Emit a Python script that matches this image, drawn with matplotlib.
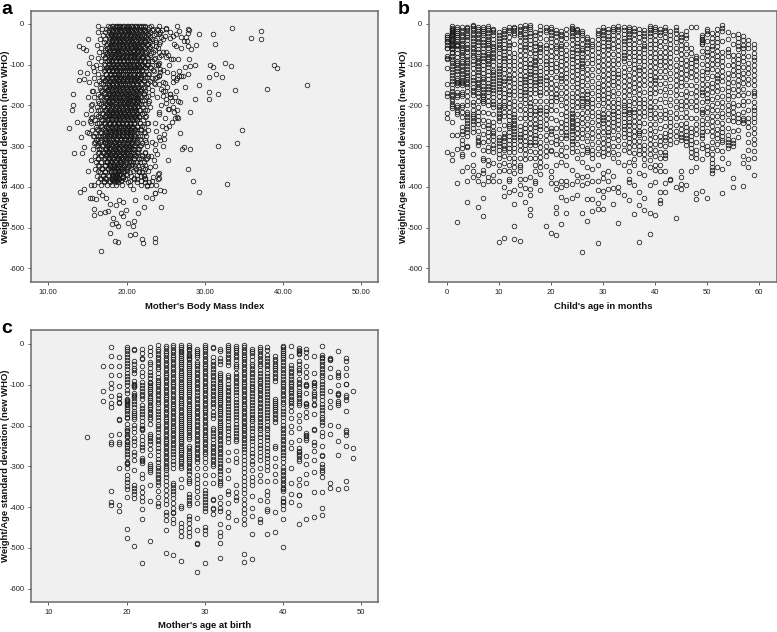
import matplotlib
matplotlib.use("Agg")
import matplotlib.pyplot as plt

plt.rcParams['font.family'] = ['Liberation Sans', 'DejaVu Sans']

W, H = 777, 632
y_ticks = [0, -100, -200, -300, -400, -500, -600]
y_tick_labels = ['0', '-100', '-200', '-300', '-400', '-500', '-600']
y_title = 'Weight/Age standard deviation (new WHO)'

# ---------- panel a: core of the cloud, read band by band ----------
a_band_who = [-4, -12, -20, -28, -36, -44, -52, -60, -68, -76, -84, -92, -100, -108, -116, -124, -132, -140, -148, -156,
              -164, -172, -180, -188, -196, -204, -212, -220, -228, -236, -244, -252, -260, -268, -276, -284, -292, -300,
              -308, -316, -324, -332, -340, -348, -356, -364, -372, -380, -388, -396]
a_band_bmi = [
 [16.4,17.6,18.3,18.8,19.2,19.7,20.1,20.6,21.2,21.8,22.4,23.1,24.2],
 [16.9,17.4,18.0,18.6,19.0,19.5,20.0,20.4,20.9,21.5,22.1,22.7,23.4,25.0],
 [16.3,17.2,17.8,18.2,18.7,19.3,19.8,20.3,20.8,21.3,21.9,22.5,23.0,24.3],
 [17.0,17.6,18.1,18.5,19.0,19.6,20.1,20.6,21.1,21.7,22.2,22.8,23.5],
 [16.6,17.3,17.9,18.4,18.9,19.4,19.9,20.5,21.0,21.5,22.0,22.6,23.2,24.6],
 [17.1,17.7,18.2,18.7,19.2,19.7,20.2,20.7,21.3,21.8,22.4,23.0,23.8],
 [16.2,17.4,18.0,18.5,19.0,19.5,20.0,20.4,20.9,21.4,21.9,22.6,23.3],
 [16.8,17.5,18.1,18.6,19.1,19.6,20.1,20.6,21.2,21.7,22.2,22.9,24.0],
 [16.5,17.2,17.8,18.3,18.8,19.4,19.9,20.4,20.8,21.4,22.0,22.5,23.4],
 [17.0,17.6,18.2,18.7,19.2,19.7,20.2,20.7,21.1,21.6,22.3,23.0,24.4],
 [16.3,17.3,17.9,18.4,18.9,19.3,19.8,20.3,20.9,21.5,22.1,22.7,23.6],
 [16.7,17.5,18.0,18.6,19.1,19.6,20.0,20.5,21.0,21.6,22.2,22.8,23.3],
 [16.1,17.2,17.8,18.3,18.8,19.4,19.9,20.4,20.9,21.3,21.9,22.6,23.8],
 [16.6,17.4,18.0,18.5,19.0,19.5,20.1,20.6,21.1,21.7,22.3,23.1],
 [15.9,17.1,17.7,18.2,18.7,19.2,19.8,20.3,20.8,21.4,22.0,22.5,23.5],
 [16.4,17.4,18.0,18.6,19.1,19.6,20.0,20.5,21.0,21.5,22.1,22.8],
 [15.8,17.0,17.6,18.1,18.7,19.3,19.8,20.4,20.9,21.3,21.9,22.4,23.2],
 [16.5,17.3,17.9,18.4,18.9,19.5,20.0,20.6,21.1,21.6,22.2,23.0],
 [16.1,17.0,17.7,18.2,18.8,19.3,19.8,20.3,20.8,21.4,22.0,22.6,23.7],
 [16.6,17.4,18.0,18.5,19.0,19.6,20.1,20.6,21.0,21.5,22.1,22.8],
 [15.7,16.9,17.6,18.1,18.7,19.2,19.7,20.2,20.7,21.3,21.9,22.4],
 [16.3,17.2,17.9,18.4,18.9,19.4,20.0,20.5,21.1,21.6,22.2,23.2],
 [15.9,16.8,17.5,18.0,18.6,19.1,19.7,20.3,20.8,21.3,21.8,22.5],
 [16.4,17.2,17.8,18.3,18.9,19.4,19.9,20.4,21.0,21.5,22.0,22.9],
 [15.6,16.7,17.5,18.1,18.6,19.2,19.7,20.2,20.7,21.2,21.8,22.3],
 [16.2,17.1,17.8,18.3,18.8,19.4,19.9,20.4,20.9,21.4,22.1,23.0],
 [15.5,16.6,17.4,18.0,18.6,19.1,19.6,20.2,20.7,21.2,21.7,22.4],
 [16.1,17.0,17.7,18.2,18.8,19.3,19.8,20.3,20.8,21.3,22.0],
 [15.6,16.6,17.4,18.0,18.5,19.1,19.6,20.1,20.6,21.1,21.6,22.3],
 [16.0,16.9,17.6,18.2,18.7,19.2,19.7,20.2,20.7,21.3,22.1],
 [15.5,16.5,17.3,17.9,18.5,19.0,19.5,20.1,20.6,21.0,21.7,22.6],
 [16.1,16.9,17.6,18.1,18.7,19.3,19.8,20.3,20.8,21.4,22.2],
 [15.6,16.4,17.2,17.9,18.4,19.0,19.5,20.0,20.5,21.1,21.8,22.8],
 [16.0,16.8,17.5,18.1,18.6,19.1,19.7,20.2,20.7,21.3,22.3],
 [15.7,16.3,17.0,17.7,18.3,18.9,19.4,20.0,20.5,21.0,21.7,22.5],
 [16.1,16.7,17.4,18.0,18.6,19.2,19.7,20.2,20.8,21.4,22.4],
 [15.8,16.4,17.2,17.8,18.4,18.9,19.5,20.0,20.6,21.2,22.0],
 [16.2,16.9,17.5,18.1,18.7,19.3,19.8,20.3,21.0,21.7,22.6],
 [15.7,16.5,17.2,17.8,18.5,19.0,19.6,20.2,20.8,21.5],
 [16.3,17.0,17.6,18.2,18.8,19.4,20.0,20.6,21.3,22.3],
 [16.0,16.7,17.4,18.0,18.6,19.1,19.7,20.4,21.1,22.0,22.8],
 [16.4,17.1,17.7,18.3,18.9,19.5,20.2,20.9,21.6,22.5],
 [16.1,16.8,17.5,18.1,18.7,19.3,19.9,20.6,21.4,22.2],
 [16.5,17.2,17.9,18.4,19.0,19.6,20.3,21.1,22.0],
 [16.0,16.9,17.6,18.2,18.8,19.4,20.1,21.2,22.3],
 [16.6,17.3,18.0,18.5,18.9,19.5,20.4,21.6,22.0],
 [16.2,17.0,17.7,18.3,18.8,19.6,20.6,21.9,22.2],
 [16.7,17.4,18.1,18.6,19.0,19.8,21.0,21.4,22.3],
 [16.4,17.1,17.9,18.5,18.9,20.2,21.3,22.4],
 [15.9,16.8,17.5,18.2,18.7,19.4,20.4,21.8,22.6],
]
a_band2_who = [-8, -16, -24, -32, -40, -48, -56, -64, -72, -80, -90, -98, -106, -114, -122, -130, -138, -146, -154, -162,
               -170, -178, -186, -194, -202, -210, -218, -226, -234, -242, -250, -258, -266, -274, -282, -290, -298, -306,
               -314, -322, -330, -338, -346, -354, -362, -370, -378, -386]
a_band2_bmi = [
 [17.9,18.5,19.0,19.4,19.9,20.3,20.8,21.4,21.9,22.3,22.9],
 [17.7,18.3,18.8,19.3,19.8,20.2,20.7,21.2,21.7,22.3,23.3,24.0],
 [18.0,18.5,19.0,19.5,20.0,20.5,21.0,21.5,22.0,22.7,23.8],
 [17.8,18.3,18.8,19.3,19.8,20.3,20.8,21.3,21.9,22.5,23.0,24.4],
 [18.1,18.6,19.1,19.6,20.1,20.6,21.2,21.7,22.3,22.9],
 [17.5,18.0,18.4,19.0,19.4,19.9,20.4,21.0,21.5,22.1,22.7,24.2],
 [17.8,18.2,18.7,19.2,19.7,20.2,20.7,21.1,21.6,22.4,23.0],
 [17.3,17.9,18.4,18.9,19.3,19.8,20.3,20.9,21.4,21.9,22.7,23.7],
 [17.5,18.0,18.6,19.1,19.6,20.1,20.6,21.2,21.8,22.4,23.1],
 [17.3,17.8,18.4,18.9,19.4,19.9,20.4,20.9,21.4,22.0,22.6,24.1],
 [17.7,18.2,18.7,19.2,19.7,20.2,20.7,21.2,21.8,22.4,23.2],
 [17.1,17.7,18.3,18.8,19.3,19.8,20.3,20.8,21.4,22.0,22.7,24.0],
 [17.5,18.0,18.5,19.0,19.6,20.1,20.6,21.1,21.6,22.3,23.0],
 [17.2,17.8,18.3,18.8,19.3,19.8,20.3,20.8,21.4,22.0,23.4],
 [17.4,17.9,18.4,19.0,19.5,20.0,20.5,21.0,21.6,22.2,22.9],
 [16.9,17.6,18.2,18.7,19.2,19.7,20.2,20.7,21.2,21.8,22.6,23.9],
 [17.3,17.8,18.4,18.9,19.4,19.9,20.5,21.0,21.5,22.2],
 [16.8,17.5,18.1,18.6,19.1,19.6,20.1,20.7,21.2,21.8,22.7,23.5],
 [17.2,17.8,18.3,18.9,19.4,19.9,20.4,20.9,21.5,22.3],
 [16.7,17.5,18.1,18.7,19.2,19.7,20.2,20.7,21.2,21.7,23.3],
 [17.1,17.7,18.3,18.8,19.3,19.8,20.3,20.8,21.4,22.2],
 [16.6,17.4,18.0,18.5,19.0,19.5,20.0,20.6,21.1,21.7,22.8],
 [17.1,17.7,18.2,18.7,19.2,19.8,20.3,20.8,21.4,22.2],
 [16.5,17.3,17.9,18.5,19.0,19.5,20.0,20.5,21.1,21.6,22.7],
 [17.0,17.6,18.2,18.7,19.3,19.8,20.3,20.9,21.5],
 [16.4,17.3,17.9,18.4,18.9,19.4,20.0,20.5,21.0,21.6,22.6],
 [16.9,17.5,18.1,18.7,19.2,19.7,20.3,20.8,21.4,22.2],
 [16.3,17.2,17.8,18.4,18.9,19.4,19.9,20.4,21.0,21.6,22.5],
 [16.8,17.5,18.1,18.6,19.1,19.7,20.2,20.7,21.3],
 [16.2,17.1,17.8,18.3,18.9,19.4,19.9,20.4,21.0,21.7,22.7],
 [16.7,17.4,18.0,18.6,19.1,19.6,20.2,20.7,21.3,22.0],
 [16.2,17.0,17.8,18.3,18.8,19.4,19.9,20.5,21.1,21.9],
 [16.6,17.3,17.9,18.5,19.0,19.6,20.1,20.6,21.2,22.2],
 [15.9,16.6,17.2,17.8,18.4,19.0,19.5,20.0,20.5,21.1,22.0],
 [16.4,17.1,17.7,18.3,18.8,19.3,19.9,20.4,21.0,21.7],
 [16.0,16.6,17.3,17.9,18.5,19.1,19.6,20.1,20.7,21.4,22.5],
 [16.3,17.0,17.7,18.3,18.8,19.4,19.9,20.5,21.1,21.9],
 [16.7,17.4,18.0,18.6,19.1,19.7,20.3,20.9,21.6],
 [16.5,17.1,17.8,18.4,18.9,19.5,20.1,20.8,21.5,22.4],
 [16.8,17.5,18.1,18.6,19.2,19.8,20.5,21.2,22.0],
 [16.4,17.2,17.8,18.4,18.9,19.6,20.3,21.0,21.8,22.6],
 [16.8,17.5,18.2,18.7,19.2,19.9,20.8,21.7],
 [16.3,17.2,17.9,18.4,19.0,19.7,20.6,21.5,22.4],
 [16.9,17.6,18.3,18.7,19.2,20.0,21.1,22.1],
 [16.4,17.3,18.0,18.5,18.9,19.7,20.8,21.6],
 [17.0,17.6,18.3,18.7,19.1,20.1,21.4,22.2],
 [16.6,17.3,18.1,18.6,19.0,19.6,20.9,22.3],
 [17.1,17.7,18.4,18.8,19.3,20.5,21.9],
]
a_band3_who = [-6, -18, -30, -42, -54, -66, -78, -88, -102, -112, -126, -136, -150, -160, -174, -182, -192, -206, -216, -224,
               -232, -246, -256, -264, -272, -280, -294, -304, -312, -320, -328, -336, -344, -352, -360, -368, -376, -384]
a_band3_bmi = [
 [18.1,18.6,19.1,19.6,20.2,20.7,21.1,21.6,22.1],
 [18.2,18.7,19.2,19.7,20.2,20.6,21.1,21.6,22.2],
 [18.0,18.4,18.9,19.4,19.9,20.4,20.9,21.4,22.0],
 [18.2,18.7,19.2,19.7,20.3,20.7,21.2,21.8,22.4],
 [18.1,18.6,19.1,19.6,20.1,20.6,21.1,21.6,22.1],
 [17.9,18.4,18.8,19.4,19.9,20.4,20.9,21.5,22.0],
 [18.0,18.5,19.0,19.5,20.0,20.5,21.0,21.5,22.1],
 [17.7,18.2,18.7,19.2,19.7,20.2,20.7,21.2,21.8],
 [18.0,18.5,19.0,19.5,20.0,20.5,21.0,21.6,22.1],
 [17.6,18.1,18.6,19.1,19.6,20.1,20.6,21.1,21.6],
 [17.9,18.4,18.9,19.3,19.8,20.3,20.8,21.3,21.9],
 [17.5,18.1,18.6,19.0,19.5,20.1,20.6,21.1,21.7],
 [17.8,18.3,18.8,19.3,19.8,20.3,20.8,21.3],
 [17.6,18.1,18.6,19.1,19.6,20.1,20.6,21.1,21.8],
 [17.8,18.2,18.7,19.2,19.7,20.2,20.7,21.2],
 [17.4,18.0,18.5,19.0,19.5,20.0,20.5,21.1,21.5],
 [17.7,18.2,18.7,19.2,19.7,20.2,20.8,21.3],
 [17.5,18.0,18.5,19.0,19.5,20.0,20.6,21.1],
 [17.7,18.2,18.7,19.2,19.7,20.2,20.7,21.2],
 [17.4,17.9,18.4,18.9,19.4,19.9,20.5,21.1],
 [17.6,18.1,18.6,19.1,19.6,20.1,20.6,21.2],
 [17.3,17.9,18.4,18.9,19.4,19.9,20.4,20.9],
 [17.6,18.1,18.6,19.1,19.6,20.1,20.7],
 [17.4,17.9,18.4,18.9,19.4,19.9,20.5,21.0],
 [17.5,18.0,18.5,19.0,19.5,20.1,20.6],
 [17.3,17.8,18.3,18.8,19.3,19.8,20.4,21.1],
 [17.5,18.0,18.6,19.1,19.6,20.1,20.7],
 [17.4,17.9,18.4,18.9,19.5,20.0,20.6],
 [17.6,18.1,18.7,19.2,19.7,20.3],
 [17.4,17.9,18.5,19.0,19.6,20.2,20.9],
 [17.7,18.2,18.8,19.3,19.9,20.5],
 [17.5,18.0,18.5,19.0,19.6,20.3],
 [17.8,18.3,18.8,19.3,19.8,20.7],
 [17.9,18.4,18.9,19.4,20.2],
 [18.0,18.5,18.9,19.3,20.0],
 [18.1,18.5,18.8,19.2,19.9],
 [18.2,18.6,18.9,19.5],
 [18.1,18.4,18.8,19.3],
]
# ---------- panel a: individually readable points ----------
a_bmi = [43.1,39.2,38.8,37.9,37.2,37.2,35.9,33.5,33.4,32.6,33.9,34.7,34.1,31.7,32.8,29.2,28.5,27.8,28.1,27.4,27.1,26.8,25.3,
         28.1,28.8,30.5,30.5,31.7,29.2,30.5,31.4,32.2,30.7,31.0,31.3,31.0,29.2,28.9,28.8,
         12.6,13.0,13.2,13.2,13.3,13.7,14.2,14.3,14.5,14.6,13.9,14.4,14.8,14.0,13.9,14.6,14.8,14.0,14.6,
         16.7,18.9,18.5,22.0,22.1,23.6,23.6,20.5,21.1,17.9,18.3,18.2,18.6,18.9,19.3,19.5,20.2,20.8,20.9,21.5,19.9,
         15.8,15.8,16.6,17.2,17.6,24.4,22.2,
         15.3,15.6,15.5,16.1,16.5,16.9,17.4,17.9,18.7,19.1,19.6,20.8,21.1,22.5,23.2,23.7,22.6,24.8,24.3,24.2,
         15.1,15.4,15.2,15.0,15.3,15.5,15.4,15.1,15.6,15.2,15.0,15.7,15.2,15.4,15.1,
         27.9,27.8,27.6,27.7,26.4,26.7,26.9,27.3,28.0,27.8,28.2,27.5,26.7,27.2,27.5,28.0,28.1,27.9,26.9,
         25.1,25.5,25.9,26.1,26.3,25.7,25.4,25.2,25.9,26.4,26.0,25.6,25.2,26.3,25.5,25.8,26.2,26.6,26.0,
         25.4,26.1,26.6,26.5,26.2,25.8,25.4,26.4,25.6,26.3,25.9,25.1,26.6,26.7,27.0,26.0,25.3,25.6,26.3,26.8,
         24.5,24.9,24.3,24.7,25.0,24.2,24.6,24.1,24.9,24.4,24.7,25.1,24.2,24.9,24.5,24.8,24.3,24.7,
         23.9,24.1,23.6,23.8,24.2,23.5,24.0,24.3,23.7,24.1,24.6,23.9,24.4,24.2,23.6,23.8,24.1,23.7,23.9,
         23.5,23.6,24.0,23.4,23.8,23.1,22.9,23.6,23.2,24.0,24.2,23.1,23.6,23.3,22.7,23.0,
         24.3,24.2,24.7,24.9,25.1,25.3,24.8,25.0]
a_who = [-151,-109,-100,-160,-17,-37,-34,-10,-104,-96,-162,-261,-292,-299,-392,-413,-385,-357,-308,-302,-308,-267,-335,
         -216,-183,-184,-166,-173,-151,-131,-122,-131,-100,-106,-49,-25,-25,-52,-100,
         -255,-211,-200,-171,-316,-240,-278,-317,-244,-303,-54,-60,-65,-119,-137,-135,-220,-413,-404,
         -558,-536,-532,-527,-538,-526,-535,-518,-515,-513,-477,-491,-489,-495,-465,-472,-488,-496,-484,-465,-456,
         -455,-468,-465,-462,-458,-449,-448,
         -427,-428,-395,-430,-412,-420,-428,-442,-445,-433,-437,-405,-432,-425,-426,-415,-398,-410,-408,-367,
         -360,-333,-268,-265,-238,-230,-200,-180,-165,-143,-120,-105,-95,-82,-37,
         -13,-22,-32,-42,-6,-18,-32,-42,-14,-55,-62,-105,-128,-128,-155,-85,-102,-122,-60,
         -10,-20,-30,-50,-55,-85,-100,-118,-120,-132,-142,-172,-155,-165,-180,-188,-180,-190,-205,
         -208,-215,-232,-228,-230,-240,-250,-210,-172,-137,-130,-70,-85,-115,-128,-85,-75,-35,-25,-192,
         -15,-30,-45,-68,-80,-95,-112,-128,-145,-160,-178,-195,-215,-232,-250,-270,-285,-300,
         -12,-25,-40,-55,-70,-85,-100,-118,-133,-148,-165,-180,-198,-222,-243,-262,-278,-295,-320,
         -335,-348,-380,-375,-395,-395,-388,-310,-290,-368,-378,-325,-415,-385,-360,-352,
         -110,-125,-142,-165,-183,-208,-283,-255]

# ---------- panel b: child's age in months, one list per month ----------
b_age = list(range(0, 60))
b_who = [
 [-28,-33,-38,-45,-52,-60,-83,-85,-107,-148,-170,-178,-218,-230,-314],
 [-6,-10,-15,-20,-25,-30,-36,-42,-48,-55,-62,-72,-85,-97,-110,-125,-140,-158,-172,-185,-196,-207,-240,-273,-318,-335],
 [-8,-18,-28,-38,-48,-55,-72,-90,-100,-115,-132,-142,-150,-175,-198,-210,-222,-273,-308,-390,-487],
 [-8,-20,-33,-47,-58,-70,-82,-97,-110,-122,-138,-145,-168,-172,-198,-215,-252,-270,-295,-305,-320,-325,-360],
 [-7,-15,-27,-40,-56,-70,-85,-97,-110,-125,-135,-148,-165,-190,-222,-235,-250,-265,-300,-303,-350,-385,-437],
 [-3,-10,-22,-35,-50,-62,-75,-90,-108,-130,-145,-162,-175,-200,-222,-230,-245,-265,-318,-345,-362,-375],
 [-8,-18,-32,-45,-62,-78,-90,-102,-118,-135,-148,-160,-178,-205,-225,-245,-278,-290,-297,-370,-385,-448],
 [-7,-17,-28,-45,-60,-75,-92,-110,-130,-142,-160,-175,-185,-195,-235,-270,-310,-328,-335,-358,-365,-392,-427,-472],
 [-6,-14,-30,-42,-52,-68,-80,-90,-105,-125,-145,-160,-178,-200,-238,-255,-275,-302,-335,-345,-375,-385],
 [-12,-20,-38,-55,-65,-78,-90,-112,-125,-140,-155,-170,-190,-205,-240,-262,-275,-298,-315,-342,-370,-385],
 [-20,-35,-50,-62,-82,-100,-115,-130,-145,-160,-178,-200,-210,-225,-238,-278,-293,-310,-330,-347,-362,-385,-536],
 [-12,-25,-40,-58,-75,-92,-110,-132,-148,-170,-190,-205,-225,-268,-280,-298,-310,-342,-358,-400,-423,-526],
 [-8,-20,-45,-60,-82,-100,-125,-140,-165,-182,-205,-225,-245,-255,-275,-295,-315,-345,-380,-385,-412],
 [-7,-15,-28,-72,-90,-110,-135,-155,-175,-200,-220,-235,-248,-262,-278,-295,-315,-340,-350,-365,-407,-442,-497,-527],
 [-6,-18,-30,-55,-75,-100,-125,-145,-165,-185,-210,-250,-270,-285,-310,-345,-360,-380,-395,-417,-532],
 [-3,-15,-32,-48,-65,-85,-105,-128,-142,-160,-175,-195,-220,-245,-265,-288,-308,-332,-380,-403,-437],
 [-3,-12,-30,-50,-72,-98,-115,-130,-150,-170,-195,-210,-230,-255,-280,-298,-330,-375,-405,-420,-455,-469],
 [-20,-38,-55,-72,-88,-100,-118,-135,-150,-170,-205,-222,-245,-262,-280,-298,-330,-345,-362,-385,-390],
 [-6,-22,-50,-62,-78,-105,-125,-140,-158,-175,-205,-218,-240,-258,-290,-315,-338,-352,-368,-407],
 [-8,-20,-52,-70,-90,-108,-130,-148,-170,-205,-222,-245,-272,-300,-325,-348,-495],
 [-7,-20,-35,-55,-78,-98,-118,-145,-170,-190,-210,-255,-270,-310,-312,-362,-375,-390,-513],
 [-15,-30,-55,-68,-95,-115,-148,-172,-190,-235,-275,-295,-345,-390,-405,-450,-463,-518],
 [-18,-30,-48,-62,-82,-100,-125,-140,-170,-200,-240,-265,-295,-322,-340,-385,-400,-425,-491],
 [-12,-35,-65,-85,-110,-130,-155,-180,-205,-225,-245,-265,-280,-325,-345,-385,-395,-432,-464],
 [-6,-12,-22,-38,-62,-78,-95,-115,-140,-170,-190,-210,-225,-238,-250,-262,-280,-295,-315,-358,-392,-427],
 [-12,-20,-38,-55,-72,-92,-112,-135,-155,-180,-205,-235,-255,-280,-312,-330,-370,-385,-420],
 [-18,-28,-50,-65,-80,-95,-108,-130,-150,-175,-190,-205,-230,-258,-280,-318,-338,-375,-395,-465,-559],
 [-32,-45,-60,-80,-110,-135,-165,-182,-195,-215,-245,-272,-305,-315,-350,-372,-390,-430,-484],
 [-40,-55,-75,-95,-125,-155,-185,-205,-225,-255,-280,-310,-330,-355,-385,-430,-460],
 [-15,-28,-48,-68,-90,-115,-145,-165,-185,-215,-235,-262,-290,-320,-345,-385,-408,-440,-453,-538],
 [-8,-20,-35,-55,-75,-100,-125,-150,-175,-195,-220,-235,-252,-280,-305,-325,-365,-378,-410,-425,-455],
 [-12,-30,-45,-62,-85,-110,-135,-160,-180,-205,-230,-255,-272,-295,-320,-360,-385,-405],
 [-8,-18,-38,-60,-88,-110,-130,-150,-178,-205,-222,-240,-262,-300,-330,-372,-403,-442],
 [-6,-18,-42,-65,-85,-112,-130,-155,-185,-205,-225,-245,-272,-300,-340,-400,-413,-488],
 [-8,-25,-42,-60,-75,-92,-118,-140,-165,-190,-205,-222,-240,-258,-278,-310,-345,-420],
 [-7,-18,-32,-48,-70,-95,-125,-150,-175,-200,-215,-230,-248,-270,-290,-315,-360,-380,-388,-432],
 [-10,-25,-50,-68,-88,-108,-132,-155,-182,-208,-225,-250,-275,-300,-332,-345,-395,-467],
 [-12,-32,-58,-80,-105,-122,-148,-172,-195,-215,-240,-262,-272,-300,-318,-365,-413,-445,-535],
 [-15,-30,-48,-62,-82,-100,-125,-150,-185,-205,-225,-262,-298,-318,-345,-370,-427,-456],
 [-6,-15,-30,-48,-68,-92,-115,-135,-160,-180,-205,-220,-245,-270,-295,-320,-350,-396,-464,-515],
 [-7,-18,-40,-60,-82,-105,-130,-145,-170,-205,-230,-262,-295,-325,-345,-358,-388,-468],
 [-12,-28,-55,-80,-100,-130,-165,-205,-235,-275,-298,-330,-360,-412,-432,-440],
 [-8,-20,-42,-70,-92,-115,-145,-175,-210,-232,-268,-285,-315,-330,-360,-390,-413],
 [-18,-38,-60,-82,-105,-135,-168,-198,-230,-250,-272,-295,-380,-383],
 [-7,-22,-45,-70,-100,-125,-150,-175,-205,-232,-262,-290,-400,-476],
 [-25,-40,-62,-85,-108,-132,-152,-190,-208,-245,-270,-285,-362,-375,-392,-405],
 [-18,-35,-60,-88,-112,-135,-165,-190,-215,-242,-262,-280,-296,-395],
 [-7,-60,-85,-105,-130,-170,-205,-255,-275,-295,-315,-327,-362],
 [-8,-78,-90,-112,-138,-165,-190,-212,-245,-270,-310,-330,-352,-415,-430],
 [-28,-36,-45,-50,-82,-115,-135,-160,-175,-208,-222,-245,-265,-280,-305,-332,-410],
 [-12,-25,-60,-75,-100,-118,-148,-172,-190,-215,-245,-300,-320,-428],
 [-22,-45,-62,-85,-110,-145,-168,-200,-225,-250,-275,-305,-320,-332,-342,-350,-358,-365],
 [-12,-35,-55,-78,-98,-125,-140,-165,-195,-225,-258,-280,-310,-352],
 [-3,-18,-68,-90,-115,-140,-178,-205,-228,-255,-275,-290,-330,-355,-415],
 [-20,-62,-78,-120,-145,-165,-185,-210,-235,-272,-290,-305,-342],
 [-28,-75,-100,-125,-160,-195,-215,-238,-285,-300,-378,-400],
 [-25,-45,-62,-85,-105,-125,-150,-175,-220,-240,-278],
 [-30,-52,-68,-90,-120,-145,-175,-200,-230,-242,-325,-342,-397],
 [-40,-60,-95,-120,-148,-190,-230,-252,-290,-332,-352],
 [-50,-72,-88,-112,-138,-165,-178,-205,-222,-240,-268,-295,-330,-370],
]
b_who_more = [
 [-31,-42,-58,-78],
 [-13,-18,-23,-28,-34,-40,-46,-52,-58,-68,-78,-92,-104,-118,-132,-148,-165,-178,-190,-202],
 [-13,-23,-33,-43,-52,-62,-80,-95,-108,-122,-137,-146,-168,-180,-205,-215],
 [-14,-27,-40,-52,-64,-76,-90,-104,-116,-130,-142,-150,-178,-205,-228,-262,-285],
 [-11,-21,-33,-48,-62,-78,-92,-104,-118,-130,-142,-155,-178,-200,-215,-228,-242,-258,-275],
 [-6,-16,-28,-43,-56,-68,-82,-98,-120,-138,-155,-168,-192,-212,-226,-238,-255],
 [-13,-25,-38,-52,-70,-84,-96,-110,-126,-142,-154,-170,-190,-215,-235,-262,-284],
 [-12,-22,-36,-52,-68,-84,-100,-120,-136,-152,-168,-180,-190,-215,-250,-290],
 [-10,-22,-36,-47,-60,-74,-85,-98,-115,-135,-152,-168,-188,-218,-248,-265,-288,-312],
 [-16,-28,-46,-60,-72,-84,-100,-118,-132,-148,-162,-180,-197,-222,-250,-268,-285,-305],
 [-28,-42,-56,-72,-92,-108,-122,-138,-152,-168,-188,-205,-218,-232,-258,-285,-300,-318],
 [-18,-32,-50,-66,-84,-100,-120,-140,-160,-180,-198,-215,-248,-275,-288,-305,-325],
 [-14,-32,-52,-70,-90,-112,-132,-152,-172,-195,-215,-235,-250,-265,-285,-305,-330,-360],
 [-10,-22,-50,-80,-100,-122,-145,-165,-188,-210,-228,-242,-255,-270,-286,-305,-328],
 [-12,-24,-42,-65,-88,-112,-135,-155,-175,-198,-230,-260,-278,-298,-328,-352],
 [-9,-24,-40,-56,-75,-95,-116,-135,-150,-168,-185,-208,-232,-255,-276,-298,-320],
 [-8,-21,-40,-60,-85,-106,-122,-140,-160,-182,-202,-220,-242,-268,-290,-312],
 [-28,-46,-64,-80,-94,-108,-126,-142,-160,-188,-214,-234,-254,-272,-290,-315],
 [-14,-35,-56,-70,-92,-115,-132,-148,-166,-190,-212,-230,-250,-275,-302,-326],
 [-14,-36,-60,-80,-98,-118,-138,-158,-188,-214,-234,-258,-285,-312],
 [-13,-28,-45,-66,-88,-108,-132,-158,-180,-200,-232,-262,-290],
 [-22,-42,-60,-80,-105,-130,-160,-180,-212,-255,-285,-320],
 [-24,-38,-55,-72,-90,-112,-132,-155,-185,-220,-252,-280,-310],
 [-24,-50,-75,-98,-120,-142,-168,-192,-215,-235,-255,-272,-302],
 [-9,-17,-30,-50,-70,-86,-105,-128,-155,-180,-200,-218,-232,-244,-256,-271,-288,-305],
 [-16,-28,-46,-64,-82,-102,-122,-145,-168,-192,-220,-245,-268,-295],
 [-23,-38,-58,-72,-88,-102,-118,-140,-162,-182,-198,-218,-244,-268,-300],
 [-38,-52,-70,-95,-122,-150,-172,-188,-205,-230,-258,-288,-310],
 [-48,-65,-85,-110,-140,-170,-195,-215,-240,-268,-295,-320],
 [-22,-38,-58,-80,-102,-130,-155,-175,-200,-225,-248,-275,-305],
 [-14,-28,-45,-65,-88,-112,-138,-162,-185,-208,-228,-244,-266,-292,-315],
 [-20,-38,-54,-74,-98,-122,-148,-170,-192,-218,-242,-264,-284,-308],
 [-12,-28,-48,-74,-98,-120,-140,-165,-192,-214,-232,-250,-280,-315],
 [-12,-30,-54,-75,-98,-122,-142,-170,-195,-215,-235,-258,-285,-320],
 [-16,-34,-50,-68,-84,-105,-128,-152,-178,-198,-214,-230,-250,-268,-295],
 [-12,-25,-40,-60,-82,-110,-138,-162,-188,-208,-222,-240,-260,-280,-302,-338],
 [-18,-38,-60,-78,-98,-120,-145,-168,-195,-216,-238,-262,-288,-316],
 [-22,-45,-70,-92,-114,-135,-160,-185,-205,-228,-250,-268,-288,-310],
 [-22,-38,-55,-72,-92,-112,-138,-168,-195,-215,-244,-280,-308,-332],
 [-10,-22,-40,-58,-80,-104,-125,-148,-170,-192,-212,-232,-258,-282,-308,-335],
 [-12,-28,-50,-72,-94,-118,-138,-158,-188,-218,-246,-278,-310],
 [-20,-42,-68,-90,-115,-148,-185,-220,-255,-288,-315,-345],
 [-14,-32,-56,-80,-104,-130,-160,-192,-222,-250,-278,-300,-322],
 [-28,-50,-72,-94,-120,-152,-184,-215,-240,-262,-285],
 [-14,-34,-58,-85,-112,-138,-162,-190,-218,-248,-276],
 [-32,-52,-74,-96,-120,-142,-172,-200,-228,-258,-278],
 [-26,-48,-74,-100,-124,-150,-178,-202,-228,-252,-272,-288],
 [-72,-95,-118,-150,-188,-230,-265,-285,-305],
 [-84,-100,-125,-152,-178,-202,-230,-258,-290,-320],
 [-32,-40,-48,-66,-98,-125,-148,-168,-192,-215,-235,-255,-272,-295],
 [-18,-42,-68,-88,-110,-132,-160,-182,-205,-230,-262,-310],
 [-34,-54,-74,-98,-128,-155,-185,-212,-238,-262,-290],
 [-24,-45,-66,-88,-112,-132,-152,-180,-210,-240,-270,-295],
 [-10,-42,-80,-102,-128,-160,-192,-218,-242,-265,-284,-312],
 [-38,-70,-100,-132,-155,-175,-198,-222,-255,-282,-298],
 [-50,-88,-112,-142,-178,-205,-228,-262,-292],
 [-35,-54,-75,-96,-116,-138,-162,-198,-230,-260],
 [-40,-60,-80,-105,-132,-160,-188,-215,-236],
 [-50,-78,-108,-135,-170,-210,-240,-270,-310],
 [-60,-80,-100,-125,-150,-170,-192,-212,-230,-255,-282,-312],
]

# ---------- panel c: mother's age at birth, one list per year ----------
c_age = [15,17,18,19,20,21,22,23,24,25,26,27,28,29,30,31,32,33,34,35,36,37,38,39,40,41,42,43,44,45,46,47,48,49]
c_who = [
 [-228],
 [-54,-115,-141],
 [-8,-30,-53,-75,-95,-107,-128,-145,-155,-224,-240,-245,-360,-387,-396],
 [-33,-53,-75,-102,-125,-133,-142,-145,-185,-187,-221,-240,-245,-303,-396,-409],
 [-8,-12,-18,-25,-32,-40,-47,-55,-62,-70,-78,-85,-92,-100,-112,-120,-135,-140,-147,-155,-165,-172,-182,-195,-205,-213,-220,-228,-237,-245,-255,-262,-270,-278,-290,-295,-305,-322,-330,-338,-347,-355,-375,-453,-476,-137,-143,-150,-160,-178,-210,-225,-241,-250,-292],
 [-13,-15,-42,-50,-58,-65,-72,-90,-100,-105,-120,-125,-132,-140,-155,-165,-175,-185,-198,-205,-215,-230,-248,-265,-272,-285,-310,-345,-352,-360,-368,-378,-496,-97,-103,-128,-148,-170,-180,-238],
 [-12,-22,-35,-38,-55,-68,-78,-92,-108,-122,-135,-150,-165,-178,-190,-205,-210,-225,-245,-260,-280,-288,-318,-328,-350,-362,-375,-385,-404,-430,-536,-100,-115,-128,-158,-172,-198,-208,-235,-252,-284,-292],
 [-8,-18,-28,-45,-58,-68,-75,-92,-100,-110,-120,-128,-138,-150,-160,-172,-185,-197,-220,-230,-245,-258,-272,-295,-305,-315,-345,-385,-484,-50,-84,-96,-105,-115,-133,-143,-155,-166,-178,-225,-238,-300,-310],
 [-3,-12,-25,-38,-50,-62,-72,-88,-98,-110,-122,-135,-148,-165,-178,-195,-208,-225,-238,-255,-272,-290,-305,-320,-330,-345,-360,-375,-390,-398,-18,-32,-45,-56,-80,-92,-104,-116,-128,-142,-156,-172,-186,-202,-216,-232,-246,-263,-282,-298,-312,-325,-338],
 [-5,-10,-16,-22,-28,-34,-40,-46,-52,-58,-64,-70,-76,-82,-88,-94,-100,-106,-112,-118,-124,-130,-136,-142,-148,-154,-160,-166,-172,-178,-184,-190,-196,-202,-208,-214,-220,-226,-232,-238,-244,-250,-256,-262,-268,-274,-280,-286,-292,-298,-304,-310,-318,-326,-335,-345,-358,-370,-382,-392,-412,-420,-432,-455,-513],
 [-3,-8,-14,-20,-26,-32,-38,-44,-50,-56,-62,-68,-74,-80,-86,-92,-98,-104,-110,-116,-122,-128,-134,-140,-146,-152,-158,-164,-170,-176,-182,-188,-194,-200,-206,-212,-218,-224,-230,-236,-242,-248,-254,-262,-270,-278,-286,-295,-305,-340,-345,-352,-360,-368,-378,-390,-402,-412,-415,-428,-438,-518],
 [-3,-12,-20,-30,-40,-50,-60,-72,-82,-92,-102,-112,-122,-135,-145,-155,-168,-178,-188,-198,-208,-218,-228,-238,-250,-260,-270,-282,-292,-305,-330,-350,-398,-402,-438,-448,-458,-470,-532,-7,-16,-25,-35,-45,-55,-66,-77,-87,-97,-107,-117,-128,-140,-150,-162,-173,-183,-193,-203,-213,-223,-233,-244,-255,-265,-276,-287,-298],
 [-3,-8,-15,-22,-30,-38,-48,-58,-68,-78,-88,-98,-108,-118,-128,-140,-152,-162,-172,-182,-192,-202,-212,-222,-232,-250,-262,-272,-282,-292,-305,-318,-330,-342,-368,-375,-382,-390,-395,-422,-430,-440,-450,-462,-472,-12,-26,-34,-43,-53,-63,-73,-83,-93,-103,-113,-123,-134,-146,-157,-167,-177,-187,-197,-207,-217,-227,-256,-267,-277,-287,-298,-312,-336],
 [-12,-22,-32,-45,-55,-68,-80,-92,-105,-118,-132,-145,-158,-170,-182,-195,-208,-220,-232,-245,-258,-270,-282,-305,-322,-340,-360,-375,-390,-426,-455,-488,-491,-559,-17,-27,-50,-62,-74,-86,-98,-111,-125,-138,-152,-164,-176,-189,-202,-214,-226,-239,-252,-264,-276,-290,-332,-350],
 [-2,-7,-12,-18,-24,-30,-36,-42,-48,-54,-60,-66,-72,-78,-84,-90,-96,-102,-108,-114,-120,-126,-132,-138,-144,-150,-156,-162,-168,-174,-180,-186,-192,-198,-204,-210,-216,-222,-228,-234,-240,-246,-252,-258,-264,-270,-280,-290,-305,-322,-340,-358,-365,-372,-380,-388,-395,-402,-410,-448,-456,-465,-538],
 [-8,-10,-32,-42,-55,-62,-75,-88,-102,-115,-128,-142,-155,-168,-182,-205,-218,-232,-250,-262,-275,-288,-300,-322,-340,-380,-382,-403,-405,-417,-48,-68,-82,-95,-108,-122,-135,-148,-175,-212,-225,-242,-256,-268,-282,-294],
 [-12,-18,-35,-42,-50,-72,-82,-92,-102,-112,-122,-132,-142,-155,-165,-175,-188,-198,-208,-220,-232,-245,-258,-270,-285,-298,-312,-328,-345,-375,-390,-402,-410,-442,-460,-470,-488,-525,-77,-87,-97,-107,-117,-127,-137,-148,-160,-170,-182,-193,-203,-214,-226,-238,-252,-264,-278,-292,-305,-320,-335,-340],
 [-3,-12,-25,-38,-52,-75,-88,-105,-118,-132,-145,-160,-175,-190,-205,-222,-240,-265,-285,-308,-328,-360,-368,-390,-412,-425,-448,-8,-18,-32,-45,-82,-97,-112,-125,-138,-152,-167,-182,-198,-214,-230],
 [-6,-10,-20,-32,-48,-60,-78,-90,-102,-118,-135,-150,-165,-178,-195,-212,-225,-238,-262,-280,-290,-345,-362,-375,-382,-432,-15,-26,-40,-54,-70,-84,-96,-110,-126,-142,-158,-172,-186,-203,-218,-232],
 [-3,-8,-14,-20,-26,-32,-38,-44,-50,-56,-62,-68,-74,-80,-86,-92,-98,-104,-110,-116,-122,-128,-134,-140,-146,-152,-158,-164,-170,-176,-182,-188,-194,-200,-206,-212,-218,-224,-230,-236,-242,-250,-258,-266,-275,-285,-295,-305,-315,-325,-335,-345,-355,-365,-380,-392,-405,-415,-428,-442,-515,-535],
 [-12,-22,-40,-55,-68,-80,-95,-108,-120,-135,-150,-165,-178,-190,-205,-222,-238,-258,-275,-288,-310,-325,-345,-372,-402,-422,-467,-527,-17,-30,-48,-62,-74,-88,-102,-114,-128,-142,-158,-172,-184,-198,-214,-230,-248,-268,-295,-335],
 [-8,-18,-30,-42,-55,-72,-85,-95,-108,-120,-132,-145,-158,-172,-185,-198,-212,-228,-248,-265,-285,-305,-322,-335,-382,-428,-437,-13,-24,-36,-48,-63,-78,-90,-102,-114,-126,-138,-152,-165,-178,-192,-205,-220,-238,-256,-275],
 [-8,-15,-35,-48,-62,-78,-92,-108,-122,-138,-152,-168,-182,-198,-212,-228,-245,-262,-280,-298,-310,-335,-360,-370,-385,-405,-410,-465,-28,-42,-55,-70,-85,-100,-115,-130,-145,-160,-175,-190,-205,-220,-236,-254,-272,-290],
 [-30,-42,-55,-65,-78,-90,-135,-145,-155,-165,-178,-192,-250,-255,-280,-298,-320,-335,-413,-462,-38,-48,-60,-72,-84,-140,-150,-160,-172,-185],
 [-5,-12,-22,-32,-45,-58,-70,-85,-98,-110,-122,-135,-148,-165,-180,-198,-212,-225,-238,-252,-265,-280,-302,-315,-328,-340,-352,-360,-378,-388,-395,-405,-430,-497,-8,-18,-27,-38,-52,-64,-78,-92,-104,-116,-128,-142,-156,-172,-189,-205,-218,-232,-245,-258,-272,-290,-308,-322,-334,-346,-356,-384],
 [-6,-30,-52,-60,-72,-85,-98,-110,-120,-135,-145,-165,-182,-202,-215,-240,-255,-303,-342,-368,-388,-66,-78,-92,-104,-115,-128,-140,-152],
 [-10,-18,-25,-42,-58,-72,-85,-98,-115,-125,-140,-150,-175,-188,-205,-235,-255,-265,-275,-288,-330,-345,-370,-395,-442,-14,-22,-50,-65,-92,-105,-120,-132,-145,-262,-270,-282,-370],
 [-12,-20,-32,-55,-68,-82,-100,-120,-145,-152,-168,-180,-218,-225,-235,-275,-295,-318,-340,-430,-98,-102,-148,-222,-230],
 [-30,-72,-92,-105,-122,-135,-150,-172,-208,-240,-248,-262,-285,-315,-362,-425,-95,-100,-118,-128,-148,-210],
 [-5,-27,-35,-48,-62,-75,-90,-105,-120,-138,-155,-170,-185,-198,-215,-225,-250,-275,-295,-310,-325,-362,-402,-420,-32,-42,-55,-68,-82,-97,-112,-128,-146,-162,-178,-192,-272,-302,-315],
 [-35,-40,-58,-82,-115,-140,-155,-198,-220,-340,-352,-38],
 [-18,-68,-82,-100,-120,-140,-150,-200,-238,-273,-356,-75,-122,-125,-145],
 [-35,-42,-60,-75,-98,-125,-138,-165,-210,-222,-250,-337,-353,-98,-130,-215],
 [-115,-256,-279],
]

# ---------- axis labels ----------
a_xticks = [10, 20, 30, 40, 50]
a_xtick_labels = ['10.00', '20.00', '30.00', '40.00', '50.00']
a_xlabel = "Mother's Body Mass Index"
b_xticks = [0, 10, 20, 30, 40, 50, 60]
b_xtick_labels = ['0', '10', '20', '30', '40', '50', '60']
b_xlabel = "Child's age in months"
c_xticks = [10, 20, 30, 40, 50]
c_xtick_labels = ['10', '20', '30', '40', '50']
c_xlabel = "Mother's age at birth"

fig = plt.figure(figsize=(W / 100, H / 100), dpi=100, facecolor='white')


def panel(px, xlim, ylim, xticks, xlabels, xlabel, letter, letter_px):
    left, top, right, bottom = px
    ax = fig.add_axes([left / W, 1 - bottom / H, (right - left) / W, (bottom - top) / H])
    ax.set_facecolor('#f0f0f0')
    ax.set_xlim(*xlim)
    ax.set_ylim(*ylim)
    ax.set_xticks(xticks, xlabels)
    ax.set_yticks(y_ticks, y_tick_labels)
    ax.tick_params(axis='both', length=2.5, width=0.6, color='#444444', labelsize=5.5, labelcolor='#222222', pad=2.5)
    for s in ax.spines.values():
        s.set_color('#6a6a6a')
        s.set_linewidth(1.1)
    ax.set_xlabel(xlabel, fontsize=6.8, fontweight='bold', labelpad=4, color='#111111')
    ax.set_ylabel(y_title, fontsize=6.8, fontweight='bold', color='#111111')
    ax.yaxis.set_label_coords(-0.062, 0.5)
    fig.text(letter_px[0] / W, 1 - letter_px[1] / H, letter, fontsize=14, fontweight='bold', color='black', va='baseline')
    return ax


def rings(ax, xs, ys):
    ax.plot(xs, ys, linestyle='none', marker='o', ms=3.3, mfc='none', mec='#1a1a1a', mew=0.55, clip_on=True)


ax_a = panel((31.3, 10.5, 377.7, 282.3), (7.83, 52.1), (-634, 33), a_xticks, a_xtick_labels, a_xlabel, 'a', (1, 14))
for y, row in zip(a_band_who, a_band_bmi):
    rings(ax_a, row, [y] * len(row))
for y, row in zip(a_band2_who, a_band2_bmi):
    rings(ax_a, row, [y] * len(row))
for y, row in zip(a_band3_who, a_band3_bmi):
    rings(ax_a, row, [y] * len(row))
rings(ax_a, a_bmi, a_who)

ax_b = panel((429.3, 10.5, 776.5, 282.3), (-3.34, 63.4), (-634, 33), b_xticks, b_xtick_labels, b_xlabel, 'b', (398, 14))
for x, col, more in zip(b_age, b_who, b_who_more):
    rings(ax_b, [x] * len(col), col)
    rings(ax_b, [x] * len(more), more)

ax_c = panel((31.3, 329.7, 377.7, 602), (7.83, 52.1), (-632.6, 35), c_xticks, c_xtick_labels, c_xlabel, 'c', (1, 333))
for x, col in zip(c_age, c_who):
    rings(ax_c, [x] * len(col), col)

fig.savefig('out.png', dpi=100, facecolor='white')
